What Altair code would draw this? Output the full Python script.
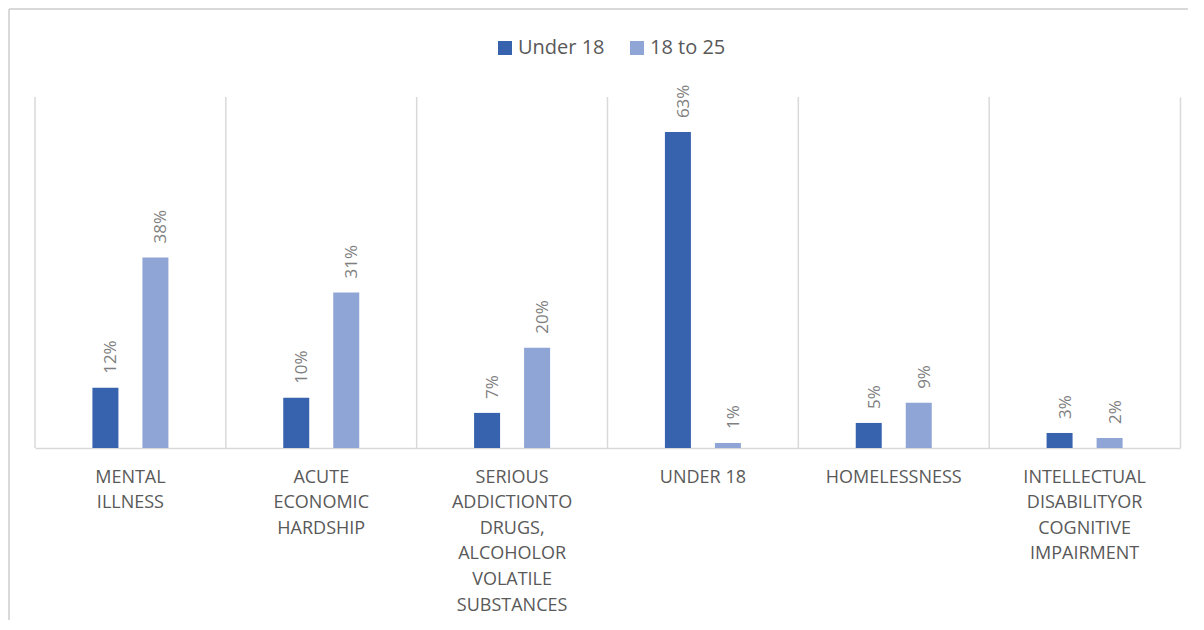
import altair as alt
import pandas as pd

categories = [
    "MENTAL|ILLNESS",
    "ACUTE|ECONOMIC|HARDSHIP",
    "SERIOUS|ADDICTIONTO|DRUGS,|ALCOHOLOR|VOLATILE|SUBSTANCES",
    "UNDER 18",
    "HOMELESSNESS",
    "INTELLECTUAL|DISABILITYOR|COGNITIVE|IMPAIRMENT",
]
series = ["Under 18", "18 to 25"]
under_18 = [12, 10, 7, 63, 5, 3]
age_18_25 = [38, 31, 20, 1, 9, 2]
colors = ["#3762AD", "#8FA5D5"]

rows = []
for cat, a, b in zip(categories, under_18, age_18_25):
    rows.append({"category": cat, "series": series[0], "value": a, "label": f"{a}%"})
    rows.append({"category": cat, "series": series[1], "value": b, "label": f"{b}%"})
df = pd.DataFrame(rows)
cat_df = pd.DataFrame({"category": categories})

W, H = 1145, 351
GRID = "#D9D9D9"

x_enc = alt.X(
    "category:N",
    sort=categories,
    scale=alt.Scale(paddingInner=0, paddingOuter=0),
    axis=alt.Axis(
        title=None,
        labelExpr="split(datum.label, '|')",
        ticks=False,
        grid=False,
        domainColor=GRID,
        domainWidth=1.5,
        labelAngle=0,
        labelFontSize=18,
        labelFont="Open Sans",
        labelColor="#595959",
        labelLineHeight=25.6,
        labelBaseline="top",
        labelAlign="center",
        labelPadding=20,
        labelLimit=400,
    ),
)
xoff_enc = alt.XOffset(
    "series:N", sort=series, scale=alt.Scale(paddingInner=0.184, paddingOuter=1)
)
y_enc = alt.Y(
    "value:Q",
    scale=alt.Scale(domain=[0, 70], nice=False, zero=True),
    axis=alt.Axis(
        orient="right",
        title=None,
        labels=False,
        ticks=False,
        grid=False,
        domain=True,
        domainColor=GRID,
        domainWidth=1.5,
    ),
)

grid = alt.Chart(cat_df).mark_rule(color=GRID, strokeWidth=1.5).encode(
    x=alt.X("category:N", sort=categories, bandPosition=0)
)

bars = alt.Chart(df).mark_bar(size=26).encode(
    x=x_enc,
    xOffset=xoff_enc,
    y=y_enc,
    color=alt.Color(
        "series:N",
        sort=series,
        scale=alt.Scale(domain=series, range=colors),
        legend=alt.Legend(
            title=None,
            orient="none",
            legendX=460,
            legendY=-59,
            direction="horizontal",
            symbolType="square",
            symbolSize=196,
            symbolStrokeWidth=0,
            labelFontSize=20,
            labelFont="Open Sans",
            labelColor="#595959",
            columnPadding=22,
            labelOffset=3,
        ),
    ),
)

labels = alt.Chart(df).mark_text(
    angle=270,
    align="left",
    baseline="alphabetic",
    dx=14,
    dy=11,
    fontSize=17,
    font="Open Sans",
    color="#7F7F7F",
).encode(x=x_enc, xOffset=xoff_enc, y=y_enc, text=alt.Text("label:N"))

frame_left = alt.Chart(cat_df).mark_rule(color=GRID, strokeWidth=1.5).encode(
    x=alt.value(-26), y=alt.value(-88), y2=alt.value(H + 200)
)
frame_top = alt.Chart(cat_df).mark_rule(color=GRID, strokeWidth=1.5).encode(
    x=alt.value(-26), x2=alt.value(W + 30), y=alt.value(-88)
)

chart = (
    alt.layer(frame_left, frame_top, grid, bars, labels)
    .properties(
        width=W,
        height=H,
        autosize=alt.AutoSizeParams(type="none"),
        padding={"left": 27, "top": 89, "right": 8, "bottom": 172},
        background="white",
    )
    .configure_view(stroke=None)
)

chart.save("out.html", embed_options={"renderer": "svg", "actions": False})
